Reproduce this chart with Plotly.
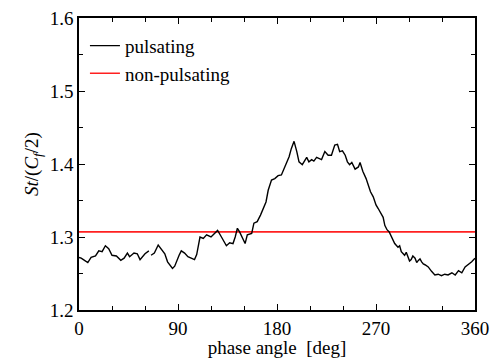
import plotly.graph_objects as go

phase_deg = [0, 2, 5, 8, 11, 15, 18, 21, 24, 27, 30, 34, 38, 41, 44, 46, 50, 53, 55.5, 60, 63.5,
             64.5,
             65.5, 68.5, 72, 74.5, 78, 80.5, 83, 85, 87, 89, 91, 93, 96, 99, 102, 105, 107, 108,
             110, 113, 116, 120, 123.5, 126, 129.5, 132, 134, 137, 140, 142, 144, 146, 149, 151,
             153, 157, 159, 162, 165, 167.5, 170, 172, 175, 178, 181, 184, 186, 189, 191, 193,
             195.5, 198, 200, 203, 207, 209, 211.5, 213.5, 216, 220.5, 223.5, 226.5, 229.5,
             232.5, 235, 237, 239.5, 242, 244, 246, 248, 251, 254, 255.5, 258, 261, 263, 265,
             267.5, 270, 272, 275, 276.5, 278, 280, 282, 284, 285.5, 287, 290, 291.5, 293, 296,
             297.5, 299, 300.5, 302, 303.5, 305.5, 307, 308.5, 310, 311.5, 313, 314.5, 317.5,
             320.5, 323.5, 326.5, 329.5, 332.5, 335.5, 339, 342, 345, 348, 351, 354, 357, 360]
pulsating = [1.272, 1.271, 1.268, 1.265, 1.272, 1.274, 1.281, 1.280, 1.288, 1.284, 1.275, 1.274,
             1.268, 1.271, 1.278, 1.273, 1.278, 1.277, 1.269, 1.277, 1.281,
             None,
             1.275, 1.278, 1.289, 1.284, 1.277, 1.266, 1.260, 1.257, 1.260, 1.268, 1.275, 1.281,
             1.278, 1.273, 1.271, 1.269, 1.276, 1.284,
             1.300, 1.298, 1.303, 1.300, 1.305, 1.309, 1.300, 1.293, 1.288, 1.292, 1.291, 1.300,
             1.312, 1.307, 1.298, 1.291,
             1.303, 1.305, 1.319, 1.321, 1.330, 1.340, 1.348, 1.364, 1.378, 1.380, 1.384, 1.385,
             1.392, 1.403, 1.410, 1.421,
             1.431, 1.417, 1.403, 1.399, 1.409, 1.403, 1.406, 1.404, 1.409, 1.406, 1.417, 1.412,
             1.412,
             1.426, 1.427, 1.417, 1.418, 1.412, 1.403, 1.399, 1.402, 1.393, 1.396, 1.402, 1.390,
             1.380, 1.370, 1.362,
             1.355, 1.344, 1.339, 1.330, 1.327, 1.316, 1.310, 1.307, 1.300, 1.297, 1.291, 1.286,
             1.288, 1.280, 1.275,
             1.279, 1.274, 1.267, 1.269, 1.274, 1.271, 1.265, 1.268, 1.270, 1.266, 1.263, 1.262,
             1.259,
             1.253, 1.248, 1.249, 1.247, 1.249, 1.248, 1.251, 1.248, 1.254, 1.251, 1.259, 1.262,
             1.266, 1.271]

nonpulsating_x = [0, 360]
nonpulsating = [1.307, 1.307]

x_ticks = [0, 90, 180, 270, 360]
y_ticks = [1.2, 1.3, 1.4, 1.5, 1.6]

FONT = "Liberation Serif, Times New Roman, serif"

fig = go.Figure()
fig.add_trace(go.Scatter(x=nonpulsating_x, y=nonpulsating, mode="lines",
                         name="non-pulsating", line=dict(color="#ff2020", width=1.6),
                         legendrank=2))
fig.add_trace(go.Scatter(x=phase_deg, y=pulsating, mode="lines", name="pulsating",
                         line=dict(color="black", width=1.4), connectgaps=False,
                         legendrank=1))

axis_common = dict(
    showline=True, linecolor="black", linewidth=1.5, mirror="ticks",
    ticks="inside", ticklen=6, tickwidth=1.3, tickcolor="black",
    showgrid=False, zeroline=False,
    tickfont=dict(family=FONT, size=19, color="black"),
)

fig.update_xaxes(range=[0, 360], tickvals=x_ticks, ticktext=[str(v) for v in x_ticks],
                 minor=dict(dtick=30, tick0=0, ticks="inside", ticklen=4, tickwidth=1.2,
                            tickcolor="black", showgrid=False),
                 title=dict(text="phase angle\u00a0 [deg]", standoff=0,
                            font=dict(family=FONT, size=19, color="black")),
                 **axis_common)
fig.update_yaxes(range=[1.2, 1.6], tickvals=y_ticks, ticktext=[f"{v:.1f}" for v in y_ticks],
                 minor=dict(dtick=0.05, tick0=1.2, ticks="inside", ticklen=4, tickwidth=1.2,
                            tickcolor="black", showgrid=False),
                 title=dict(text="<i>St</i>/(<i>C</i><sub><i>f</i></sub>/2)", standoff=6,
                            font=dict(family=FONT, size=19, color="black")),
                 **axis_common)

fig.update_layout(
    width=492, height=358,
    margin=dict(l=79, r=17, t=18, b=48, autoexpand=False),
    paper_bgcolor="white", plot_bgcolor="white",
    font=dict(family=FONT, size=19, color="black"),
    showlegend=True,
    legend=dict(x=0.015, y=0.97, xanchor="left", yanchor="top",
                bgcolor="rgba(0,0,0,0)", borderwidth=0,
                font=dict(family=FONT, size=19, color="black"),
                itemwidth=30, tracegroupgap=0),
)

fig.write_html("out.html", config={"displayModeBar": False},
               post_script="document.body.style.margin='0';document.body.style.overflow='hidden';")
